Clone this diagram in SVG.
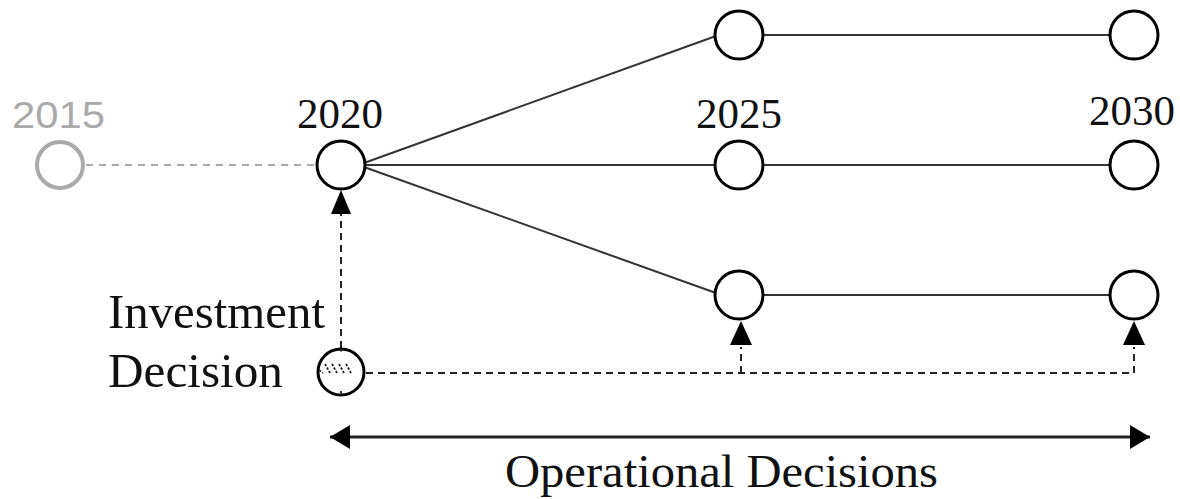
<svg xmlns="http://www.w3.org/2000/svg" width="1180" height="499" viewBox="0 0 1180 499">
<style>
.n{fill:#fff;stroke:#000;stroke-width:3}
.l{stroke:#333;stroke-width:2;fill:none}
.d{stroke:#222;stroke-width:2;stroke-dasharray:7,5;fill:none}
.t{font-family:"Liberation Serif",serif;font-size:43px;fill:#111}
</style>
<defs>
<marker id="ab" viewBox="0 0 20 24" refX="20" refY="12" markerWidth="20" markerHeight="24" markerUnits="userSpaceOnUse" orient="auto-start-reverse"><path d="M0,0L20,12L0,24z" fill="#000"/></marker>
</defs>
<g id="connectors">
<line x1="86" y1="165" x2="318" y2="165" stroke="#aaa" stroke-width="2" stroke-dasharray="7,6"/>
<line class="l" x1="364" y1="163" x2="716" y2="36"/>
<line class="l" x1="364" y1="165" x2="716" y2="165"/>
<line class="l" x1="364" y1="167" x2="716" y2="293"/>
<line class="l" x1="763" y1="35" x2="1110" y2="35"/>
<line class="l" x1="763" y1="165" x2="1110" y2="165"/>
<line class="l" x1="763" y1="295" x2="1110" y2="295"/>
<line class="d" x1="341" y1="348" x2="341" y2="214"/>
<path d="M331,214L341,190L351,214z" fill="#000"/>
<path class="d" d="M366,373H1134V347M741,373V347"/>
<path d="M730,345L741,321L752,345z" fill="#000"/>
<path d="M1123,345L1134,321L1145,345z" fill="#000"/>
<line x1="330" y1="437" x2="1150" y2="437" stroke="#222" stroke-width="3" marker-start="url(#ab)" marker-end="url(#ab)"/>
</g>
<g id="n2015"><circle cx="60" cy="165" r="23" fill="#fff" stroke="#aaa" stroke-width="4"/><text x="12" y="128" textLength="93" lengthAdjust="spacingAndGlyphs" font-family="Liberation Sans,Arial,sans-serif" font-size="37" fill="#aaa">2015</text></g>
<g id="n2020"><circle class="n" cx="341" cy="165" r="24"/><text class="t" x="297" y="128" textLength="86" lengthAdjust="spacingAndGlyphs">2020</text></g>
<g id="n2025a"><circle class="n" cx="739" cy="35" r="24"/></g>
<g id="n2025b"><circle class="n" cx="739" cy="165" r="24"/><text class="t" x="696" y="128" textLength="86" lengthAdjust="spacingAndGlyphs">2025</text></g>
<g id="n2025c"><circle class="n" cx="739" cy="295" r="24"/></g>
<g id="n2030a"><circle class="n" cx="1134" cy="35" r="24"/></g>
<g id="n2030b"><circle class="n" cx="1134" cy="165" r="24"/><text class="t" x="1089" y="125" textLength="86" lengthAdjust="spacingAndGlyphs">2030</text></g>
<g id="n2030c"><circle class="n" cx="1134" cy="295" r="24"/></g>
<g id="inv">
<circle class="n" cx="341" cy="372" r="23"/>
<path d="M325,364l5,9M332,364l5,9M339,364l5,9M346,364l5,9M319,370l4,3M341,349v3M341,391v3" stroke="#222" stroke-width="1.8" stroke-dasharray="2.5,1.5"/>
<text class="t" transform="translate(108,328) scale(1,1.12)" font-size="47" textLength="217" lengthAdjust="spacingAndGlyphs">Investment</text>
<text class="t" transform="translate(108,387) scale(1,1.12)" font-size="47" textLength="175" lengthAdjust="spacingAndGlyphs">Decision</text>
</g>
<g id="ops"><text class="t" transform="translate(505,487) scale(1,1.08)" font-size="46" textLength="433" lengthAdjust="spacingAndGlyphs">Operational Decisions</text></g>
</svg>
